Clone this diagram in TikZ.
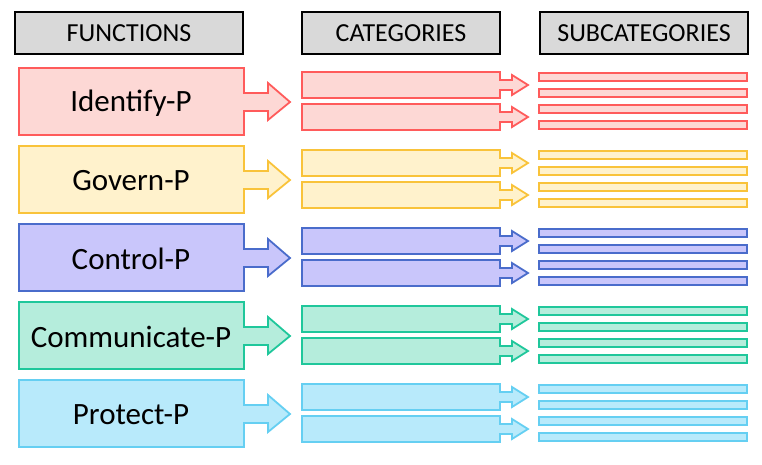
\documentclass[tikz,border=0pt]{standalone}
\usepackage{fontspec}
\setmainfont{Carlito}
\definecolor{redD}{HTML}{FF5B5B}\definecolor{redF}{HTML}{FDD8D5}
\definecolor{yelD}{HTML}{F9C33A}\definecolor{yelF}{HTML}{FFF2CC}
\definecolor{bluD}{HTML}{4A6CCB}\definecolor{bluF}{HTML}{C9C6FB}
\definecolor{grnD}{HTML}{1FC79B}\definecolor{grnF}{HTML}{B5EDDC}
\definecolor{cyaD}{HTML}{65CFF2}\definecolor{cyaF}{HTML}{B8EAFB}
\tikzset{
  header/.style={draw=black, line width=1.6pt, fill=black!15, minimum height=42pt, font=\fontsize{26}{30}\selectfont, inner sep=0pt},
  shape line/.style={line width=1.8pt, line join=miter},
  fname/.style={font=\fontsize{31}{36}\selectfont}
}
\begin{document}
\begin{tikzpicture}[x=1pt,y=-1pt]
  \useasboundingbox (0,0) rectangle (762,464);
  \node[header, minimum width=228pt] (hfun) at (129,33) {FUNCTIONS};
  \node[header, minimum width=198pt] (hcat) at (401,33) {CATEGORIES};
  \node[header, minimum width=208pt] (hsub) at (644,33) {SUBCATEGORIES};

  \foreach \name/\dc/\fc [count=\i from 0] in {Identify-P/redD/redF, Govern-P/yelD/yelF,
      Control-P/bluD/bluF, Communicate-P/grnD/grnF, Protect-P/cyaD/cyaF}{
    \pgfmathsetmacro{\y}{68+78*\i}
    % function box with its arrow
    \draw[shape line, draw=\dc, fill=\fc]
      (19,\y) -- (244,\y) -- (244,\y+25) -- (268,\y+25) -- (268,\y+15)
      -- (290,\y+34) -- (268,\y+52) -- (268,\y+43) -- (244,\y+43)
      -- (244,\y+67) -- (19,\y+67) -- cycle;
    \node[fname] (f\i) at (131,\y+35) {\name};
    % categories
    \foreach \c in {0,1}{
      \pgfmathsetmacro{\cy}{\y+4+32*\c}
      \draw[shape line, draw=\dc, fill=\fc]
        (302,\cy) -- (500,\cy) -- (500,\cy+8) -- (512,\cy+8) -- (512,\cy+3)
        -- (528,\cy+13) -- (512,\cy+23) -- (512,\cy+18) -- (500,\cy+18)
        -- (500,\cy+26) -- (302,\cy+26) -- cycle;
    }
    % subcategories
    \foreach \s in {0,...,3}{
      \draw[shape line, draw=\dc, fill=\fc] (539,\y+5+16*\s) rectangle (747,\y+13+16*\s);
    }
  }
\end{tikzpicture}
\end{document}
